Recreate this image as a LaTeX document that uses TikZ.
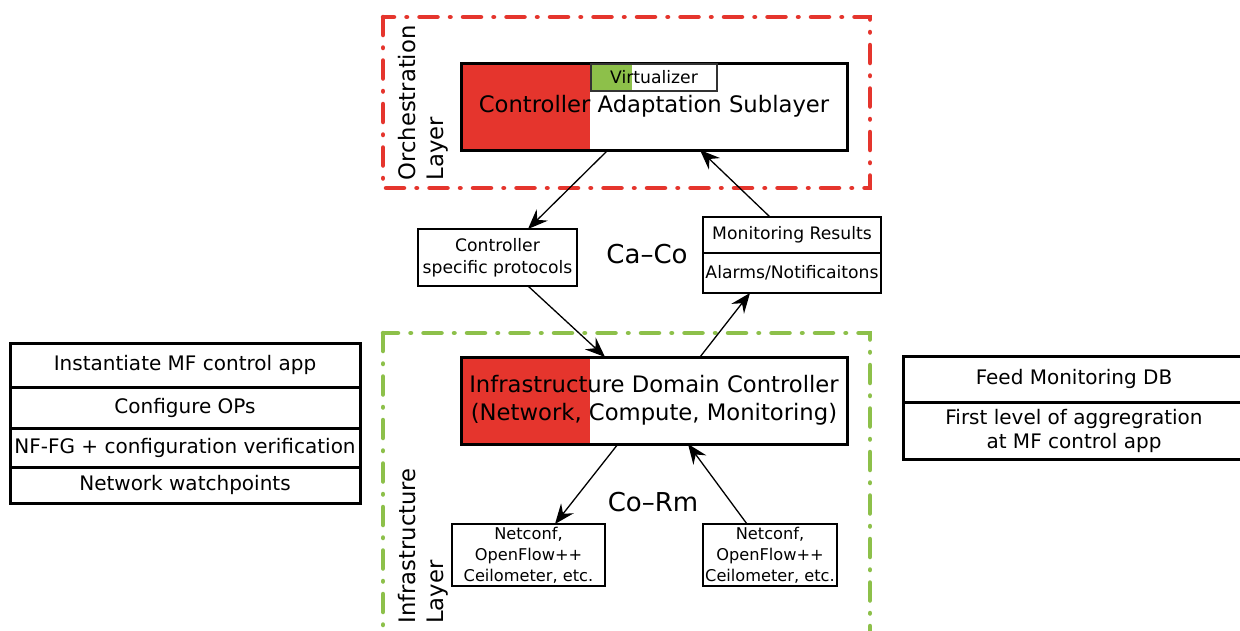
\documentclass[tikz,border=0pt]{standalone}
\usepackage{fontspec}
\setmainfont{DejaVu Sans}
\usetikzlibrary{positioning,arrows.meta}

\definecolor{orchred}{HTML}{E5352D}
\definecolor{infragreen}{HTML}{8DC04A}

\tikzset{
  bigtext/.style={font=\fontsize{22.7}{28}\selectfont},
  ifacetext/.style={font=\fontsize{26}{30}\selectfont},
  midtext/.style={font=\fontsize{20}{24}\selectfont},
  smalltext/.style={font=\fontsize{17.2}{22}\selectfont},
  tinytext/.style={font=\fontsize{16.2}{21}\selectfont},
  thickbox/.style={draw, line width=3pt, inner sep=0pt, outer sep=0pt, align=center},
  thinbox/.style={draw, line width=1.3pt, inner sep=0pt, outer sep=0pt, align=center},
  layerframe/.style={line width=4.5pt, line cap=round,
    dash pattern=on 18pt off 12.5pt on 0.5pt off 12.5pt},
  redpart/.style={path picture={\fill[orchred] (path picture bounding box.north west)
    rectangle ++(#1,200);}},
}

\begin{document}
\begin{tikzpicture}[x=1pt, y=-1pt, >={Stealth[length=20pt,width=16pt,inset=7pt]}]
  \clip (0,0) rectangle (1240,630);
  \fill[white] (0,0) rectangle (1240,630);

  % layer frames
  \draw[layerframe, orchred] (383,17) rectangle (870,188);
  \draw[layerframe, infragreen] (383,333) rectangle (870,680);
  \node[bigtext, rotate=90, align=left] (orchlbl) at (423,103) {Orchestration\\Layer};
  \node[bigtext, rotate=90, align=left] (infralbl) at (423,546) {Infrastructure\\Layer};

  % controller adaptation sublayer
  \node[thickbox, bigtext, redpart=129, minimum width=386, minimum height=87]
    (cas) at (654,106.5) {Controller Adaptation Sublayer};
  \node[thinbox, smalltext, draw=black!80, fill=white, minimum width=126, minimum height=27,
    path picture={\fill[infragreen] (path picture bounding box.north west) rectangle ++(41,40);}]
    (virt) at (654,77.5) {Virtualizer};

  % Ca-Co interface
  \node[thinbox, smalltext, minimum width=159, minimum height=57] (csp) at (497.5,257.5)
    {Controller\\specific protocols};
  \node[ifacetext] (caco) at (647,254) {Ca–Co};
  \node[thinbox, smalltext, minimum width=178, minimum height=36] (mon1) at (792,235)
    {Monitoring Results};
  \node[thinbox, smalltext, minimum width=178, minimum height=40, below=0pt of mon1] (mon2)
    {Alarms/Notificaitons};

  % infrastructure domain controller
  \node[thickbox, bigtext, redpart=129, minimum width=386, minimum height=87]
    (idc) at (654,400.5) {Infrastructure Domain Controller\\(Network, Compute, Monitoring)};

  % Co-Rm interface
  \node[ifacetext] (corm) at (653,502) {Co–Rm};
  \node[thinbox, tinytext, minimum width=153, minimum height=62] (nc1) at (528.5,555)
    {Netconf,\\OpenFlow++\\Ceilometer, etc.};
  \node[thinbox, tinytext, minimum width=134, minimum height=62] (nc2) at (770,555)
    {Netconf,\\OpenFlow++\\Ceilometer, etc.};

  % left stack
  \node[thickbox, midtext, minimum width=350, minimum height=44] (ls1) at (185,365)
    {Instantiate MF control app};
  \node[thickbox, midtext, minimum width=350, minimum height=41, below=0pt of ls1] (ls2)
    {Configure OPs};
  \node[thickbox, midtext, minimum width=350, minimum height=39, below=0pt of ls2] (ls3)
    {NF-FG + configuration verification};
  \node[thickbox, midtext, minimum width=350, minimum height=36, below=0pt of ls3] (ls4)
    {Network watchpoints};

  % right stack
  \node[thickbox, midtext, minimum width=342, minimum height=46] (rs1) at (1074,379)
    {Feed Monitoring DB};
  \node[thickbox, midtext, minimum width=342, minimum height=57, below=0pt of rs1] (rs2)
    {First level of aggregration\\at MF control app};

  % connectors
  \draw[->, line width=1.3pt] ([xshift=-46pt]cas.south) -- ([xshift=30.5pt]csp.north);
  \draw[->, line width=1.3pt] ([xshift=-22pt]mon1.north) -- ([xshift=46pt]cas.south);
  \draw[->, line width=1.3pt] ([xshift=30.5pt]csp.south) -- ([xshift=-49pt]idc.north);
  \draw[->, line width=1.3pt] ([xshift=46pt]idc.north) -- ([xshift=-42pt]mon2.south);
  \draw[->, line width=1.3pt] ([xshift=-36pt]idc.south) -- ([xshift=26.5pt]nc1.north);
  \draw[->, line width=1.3pt] ([xshift=-23pt]nc2.north) -- ([xshift=34pt]idc.south);
\end{tikzpicture}
\end{document}
